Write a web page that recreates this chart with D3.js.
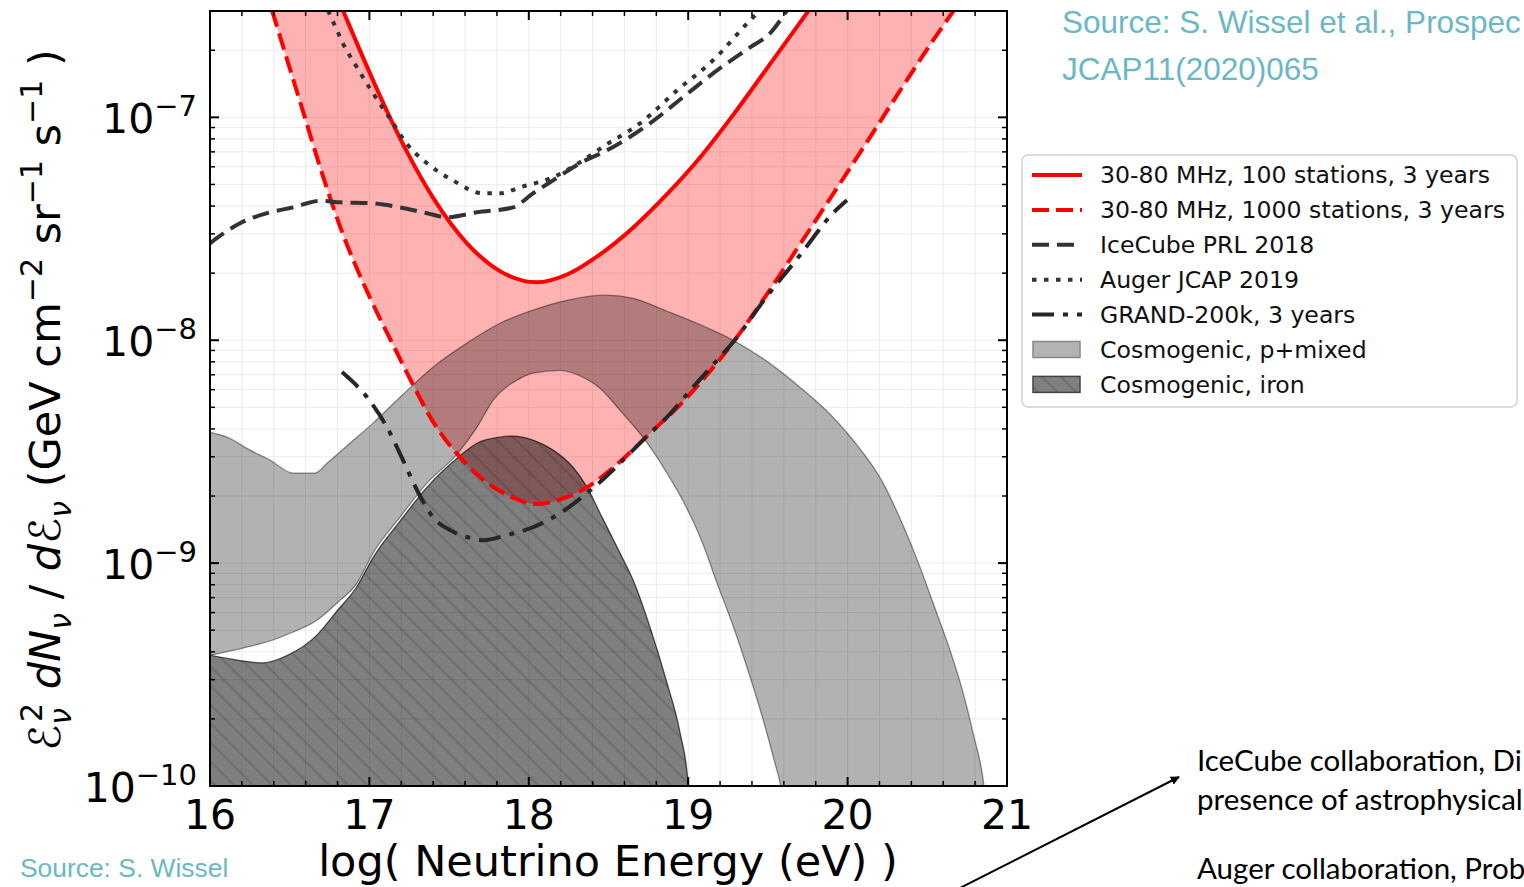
<!DOCTYPE html>
<html>
<head>
<meta charset="utf-8">
<script src="https://cdn.jsdelivr.net/npm/d3@7"></script>
<style>
  body { margin: 0; background: #fff; overflow: hidden; }
  svg { display: block; }
</style>
</head>
<body>
<svg id="chart" width="1524" height="887"></svg>
<script>
// Neutrino flux sensitivities and cosmogenic model bands.
// Each point: [log10(E / eV), log10(E^2 dN/dE in GeV cm^-2 sr^-1 s^-1)]

const radio100Stations = [
  [16.834, -6.52], [17.142, -7.02], [17.236, -7.155], [17.399, -7.36], [17.612, -7.565],
  [17.819, -7.69], [18.051, -7.74], [18.240, -7.705], [18.447, -7.615], [18.654, -7.495],
  [18.867, -7.345], [19.074, -7.18], [19.281, -6.99], [19.494, -6.78], [19.701, -6.575],
  [19.777, -6.50]
];

const radio1000Stations = [
  [16.389, -6.52], [16.565, -6.93], [16.734, -7.32], [16.816, -7.49], [17.004, -7.81],
  [17.148, -8.02], [17.274, -8.20], [17.399, -8.365], [17.550, -8.51], [17.713, -8.625],
  [17.882, -8.70], [18.051, -8.735], [18.215, -8.71], [18.365, -8.66], [18.572, -8.545],
  [18.779, -8.405], [18.949, -8.29], [19.118, -8.155], [19.281, -8.01], [19.469, -7.82],
  [19.701, -7.57], [19.908, -7.345], [20.122, -7.11], [20.329, -6.88], [20.536, -6.655],
  [20.686, -6.50]
];

const iceCube2018 = [
  [16.000, -7.565], [16.188, -7.475], [16.358, -7.430], [16.521, -7.404], [16.690, -7.375],
  [16.816, -7.381], [17.023, -7.386], [17.192, -7.404], [17.361, -7.430], [17.487, -7.448],
  [17.675, -7.426], [17.901, -7.404], [18.026, -7.341], [18.152, -7.283], [18.321, -7.206],
  [18.491, -7.148], [18.760, -7.027], [18.967, -6.910], [19.181, -6.789], [19.388, -6.686],
  [19.513, -6.623], [19.620, -6.52]
];

const auger2019 = [
  [16.740, -6.52], [16.797, -6.610], [16.834, -6.668], [16.922, -6.776], [17.023, -6.892],
  [17.129, -7.005], [17.236, -7.120], [17.361, -7.206], [17.524, -7.283], [17.713, -7.341],
  [17.819, -7.341], [17.945, -7.314], [18.152, -7.269], [18.340, -7.193], [18.478, -7.126],
  [18.698, -7.027], [18.930, -6.879], [19.156, -6.744], [19.388, -6.565], [19.438, -6.529]
];

const grand200k = [
  [16.828, -8.143], [16.985, -8.256], [17.110, -8.390], [17.211, -8.538], [17.299, -8.673],
  [17.399, -8.794], [17.506, -8.852], [17.612, -8.883], [17.713, -8.897], [17.863, -8.874],
  [18.026, -8.839], [18.196, -8.776], [18.365, -8.686], [18.572, -8.552], [18.716, -8.448],
  [18.867, -8.345], [19.030, -8.211], [19.181, -8.090], [19.281, -8.009], [19.494, -7.803],
  [19.701, -7.619], [19.908, -7.430], [19.996, -7.372]
];

const cosmoMixedUpper = [
  [16.000, -8.413], [16.107, -8.435], [16.251, -8.493], [16.376, -8.538], [16.521, -8.596],
  [16.659, -8.596], [16.734, -8.552], [16.878, -8.462], [17.023, -8.372], [17.192, -8.256],
  [17.399, -8.121], [17.612, -8.013], [17.819, -7.924], [18.026, -7.865], [18.240, -7.821],
  [18.478, -7.798], [18.654, -7.812], [18.867, -7.870], [19.074, -7.930], [19.281, -8.000],
  [19.494, -8.095], [19.701, -8.211], [19.908, -8.345], [20.034, -8.448], [20.222, -8.640],
  [20.329, -8.800], [20.454, -9.018], [20.536, -9.179], [20.642, -9.390], [20.724, -9.580],
  [20.787, -9.762], [20.856, -10.0], [20.872, -10.1]
];

const cosmoMixedLower = [
  [16.000, -9.413], [16.207, -9.381], [16.395, -9.345], [16.521, -9.309], [16.671, -9.256],
  [16.797, -9.179], [16.922, -9.090], [17.023, -8.955], [17.192, -8.794], [17.361, -8.641],
  [17.550, -8.511], [17.675, -8.390], [17.775, -8.270], [17.926, -8.179], [18.026, -8.148],
  [18.196, -8.135], [18.340, -8.166], [18.447, -8.215], [18.572, -8.314], [18.716, -8.435],
  [18.867, -8.596], [18.967, -8.720], [19.093, -8.915], [19.181, -9.090], [19.281, -9.280],
  [19.388, -9.510], [19.469, -9.700], [19.545, -9.900], [19.580, -10.0], [19.600, -10.1]
];

const cosmoIronUpper = [
  [16.000, -9.413], [16.169, -9.435], [16.332, -9.448], [16.489, -9.413], [16.671, -9.323],
  [16.797, -9.215], [16.922, -9.105], [17.023, -8.975], [17.192, -8.812], [17.361, -8.660],
  [17.550, -8.530], [17.675, -8.462], [17.819, -8.435], [17.901, -8.430], [18.026, -8.448],
  [18.152, -8.493], [18.277, -8.570], [18.365, -8.659], [18.447, -8.776], [18.572, -8.955],
  [18.654, -9.076], [18.760, -9.287], [18.867, -9.538], [18.949, -9.762], [18.999, -9.987],
  [19.010, -10.1]
];

const xTickValues = [16, 17, 18, 19, 20, 21];
const yTickExponents = [-10, -9, -8, -7];

const legendLabels = [
  "30-80 MHz, 100 stations, 3 years",
  "30-80 MHz, 1000 stations, 3 years",
  "IceCube PRL 2018",
  "Auger JCAP 2019",
  "GRAND-200k, 3 years",
  "Cosmogenic, p+mixed",
  "Cosmogenic, iron"
];

// ---------------------------------------------------------------------------
const svg = d3.select("#chart");
const plot = { left: 210, right: 1007, top: 11, bottom: 786 };

const x = d3.scaleLinear().domain([16, 21]).range([plot.left, plot.right]);
const y = d3.scaleLog().domain([1e-10, 3e-7]).range([plot.bottom, plot.top]);

const px = d => x(d[0]);
const py = d => y(Math.pow(10, d[1]));
const curve = d3.curveMonotoneX;
const line = d3.line().x(px).y(py).curve(curve);

const defs = svg.append("defs");
defs.append("clipPath").attr("id", "plotClip")
  .append("rect")
  .attr("x", plot.left).attr("y", plot.top)
  .attr("width", plot.right - plot.left).attr("height", plot.bottom - plot.top);

// diagonal hatch for the iron band
const hatch = defs.append("pattern")
  .attr("id", "ironHatch")
  .attr("patternUnits", "userSpaceOnUse")
  .attr("width", 19).attr("height", 19);
hatch.append("path")
  .attr("d", "M-4.75,14.25L4.75,23.75M0,0L19,19M14.25,-4.75L23.75,4.75")
  .attr("stroke", "#000").attr("stroke-opacity", 0.13).attr("stroke-width", 2);

defs.append("marker")
  .attr("id", "arrowHead")
  .attr("viewBox", "0 0 10 10")
  .attr("refX", 9).attr("refY", 5)
  .attr("markerWidth", 9).attr("markerHeight", 9)
  .attr("markerUnits", "userSpaceOnUse")
  .attr("orient", "auto")
  .append("path").attr("d", "M0,0L10,5L0,10Z").attr("fill", "#000");

// ---- grid ----
const xMinor = d3.range(16, 21.0001, 0.2).map(v => +v.toFixed(1));
const yMinor = [];
yTickExponents.forEach(e => {
  for (let k = 1; k <= 9; k++) {
    const v = k * Math.pow(10, e);
    if (v >= 1e-10 && v <= 3e-7) yMinor.push(v);
  }
});

const grid = svg.append("g").attr("stroke", "#ebebeb").attr("stroke-width", 1);
grid.selectAll("line.gx").data(xMinor.filter(v => v > 16 && v < 21)).join("line")
  .attr("x1", d => x(d)).attr("x2", d => x(d))
  .attr("y1", plot.top).attr("y2", plot.bottom);
grid.selectAll("line.gy").data(yMinor.filter(v => v > 1e-10)).join("line")
  .attr("x1", plot.left).attr("x2", plot.right)
  .attr("y1", d => y(d)).attr("y2", d => y(d));

// ---- filled regions ----
const layer = svg.append("g").attr("clip-path", "url(#plotClip)");

// radio sensitivity band between the two station counts
const bandPath = line(radio100Stations) + "L" +
  line(radio1000Stations.slice().reverse()).slice(1) + "Z";
layer.append("path")
  .attr("d", bandPath)
  .attr("fill", "#ff0000").attr("fill-opacity", 0.3)
  .attr("stroke", "none");

// cosmogenic p+mixed band
const mixedPath = line(cosmoMixedUpper) + "L" +
  line(cosmoMixedLower.slice().reverse()).slice(1) + "Z";
layer.append("path")
  .attr("d", mixedPath)
  .attr("fill", "#000").attr("fill-opacity", 0.3)
  .attr("stroke", "#000").attr("stroke-opacity", 0.42).attr("stroke-width", 1.3);

// cosmogenic iron band (extends below the axis)
const ironArea = d3.area().x(px).y1(py).y0(plot.bottom + 20).curve(curve);
layer.append("path")
  .attr("d", ironArea(cosmoIronUpper))
  .attr("fill", "#000").attr("fill-opacity", 0.5)
  .attr("stroke", "#000").attr("stroke-opacity", 0.65).attr("stroke-width", 1.3);
layer.append("path")
  .attr("d", ironArea(cosmoIronUpper))
  .attr("fill", "url(#ironHatch)");

// ---- curves ----
const curves = [
  { data: radio100Stations, color: "#ff0000", width: 4, dash: null },
  { data: radio1000Stations, color: "#ff0000", width: 4, dash: "17,7" },
  { data: iceCube2018, color: "#333333", width: 4, dash: "17,8" },
  { data: auger2019, color: "#333333", width: 4, dash: "4.5,7.5" },
  { data: grand200k, color: "#262626", width: 4, dash: "22,9,5,9" }
];
curves.forEach(c => {
  layer.append("path")
    .attr("d", line(c.data))
    .attr("fill", "none")
    .attr("stroke", c.color)
    .attr("stroke-width", c.width)
    .attr("stroke-dasharray", c.dash)
    .attr("stroke-linejoin", "round");
});

// ---- axes frame and ticks (inward, all four sides) ----
const ticks = svg.append("g").attr("stroke", "#000");
xMinor.forEach(v => {
  const isMajor = xTickValues.includes(v);
  const len = isMajor ? 9 : 5;
  const w = isMajor ? 2 : 1.5;
  ticks.append("line").attr("x1", x(v)).attr("x2", x(v))
    .attr("y1", plot.bottom).attr("y2", plot.bottom - len).attr("stroke-width", w);
  ticks.append("line").attr("x1", x(v)).attr("x2", x(v))
    .attr("y1", plot.top).attr("y2", plot.top + len).attr("stroke-width", w);
});
yMinor.forEach(v => {
  const e = Math.log10(v);
  const isMajor = Math.abs(e - Math.round(e)) < 1e-9;
  const len = isMajor ? 9 : 5;
  const w = isMajor ? 2 : 1.5;
  ticks.append("line").attr("x1", plot.left).attr("x2", plot.left + len)
    .attr("y1", y(v)).attr("y2", y(v)).attr("stroke-width", w);
  ticks.append("line").attr("x1", plot.right).attr("x2", plot.right - len)
    .attr("y1", y(v)).attr("y2", y(v)).attr("stroke-width", w);
});

svg.append("rect")
  .attr("x", plot.left).attr("y", plot.top)
  .attr("width", plot.right - plot.left).attr("height", plot.bottom - plot.top)
  .attr("fill", "none").attr("stroke", "#000").attr("stroke-width", 2);

// ---- tick labels ----
const font = "DejaVu Sans, sans-serif";
svg.append("g").selectAll("text").data(xTickValues).join("text")
  .attr("x", d => x(d)).attr("y", 829)
  .attr("text-anchor", "middle")
  .attr("font-family", font).attr("font-size", 41)
  .text(d => d);

yTickExponents.forEach(e => {
  const t = svg.append("text")
    .attr("x", 197).attr("y", y(Math.pow(10, e)) + 16)
    .attr("text-anchor", "end")
    .attr("font-family", font).attr("font-size", 41);
  t.append("tspan").text("10");
  t.append("tspan").attr("font-size", 29).attr("dy", -17).text("\u2212" + Math.abs(e));
});

// ---- axis titles ----
svg.append("text")
  .attr("x", 608).attr("y", 876)
  .attr("text-anchor", "middle")
  .attr("font-family", font).attr("font-size", 43)
  .text("log( Neutrino Energy (eV) )");

const yTitle = svg.append("text")
  .attr("transform", "translate(60,400) rotate(-90)")
  .attr("text-anchor", "middle")
  .attr("font-family", font).attr("font-size", 43);
const yParts = [
  { t: "\u2130", italic: true },
  { t: "\u03bd", size: 30, dy: 11, italic: true },
  { t: "2", size: 30, dx: -14, dy: -29 },
  { t: " ", dy: 18 },
  { t: "dN", italic: true },
  { t: "\u03bd", size: 30, dy: 11, italic: true },
  { t: " / ", dy: -11 },
  { t: "d\u2130", italic: true },
  { t: "\u03bd", size: 30, dy: 11, italic: true },
  { t: " (GeV cm", dy: -11 },
  { t: "\u22122", size: 30, dy: -18 },
  { t: " sr", dy: 18 },
  { t: "\u22121", size: 30, dy: -18 },
  { t: " s", dy: 18 },
  { t: "\u22121", size: 30, dy: -18 },
  { t: " )", dy: 18 }
];
yParts.forEach(p => {
  const s = yTitle.append("tspan").text(p.t);
  if (p.size) s.attr("font-size", p.size);
  if (p.dx) s.attr("dx", p.dx);
  if (p.dy) s.attr("dy", p.dy);
  if (p.italic) s.attr("font-style", "italic");
});

// ---- legend ----
const legend = svg.append("g");
legend.append("rect")
  .attr("x", 1022).attr("y", 155).attr("width", 495).attr("height", 252)
  .attr("rx", 6).attr("fill", "#fff").attr("stroke", "#d0d0d0").attr("stroke-width", 1.5);

const rowY = i => 175 + i * 34.9;
legendLabels.forEach((label, i) => {
  legend.append("text")
    .attr("x", 1100).attr("y", rowY(i))
    .attr("dy", "0.36em")
    .attr("font-family", font).attr("font-size", 23.6)
    .attr("fill", "#111")
    .text(label);
});
curves.forEach((c, i) => {
  legend.append("line")
    .attr("x1", 1032).attr("x2", 1082)
    .attr("y1", rowY(i)).attr("y2", rowY(i))
    .attr("stroke", c.color).attr("stroke-width", c.width)
    .attr("stroke-dasharray", c.dash);
});
legend.append("rect")
  .attr("x", 1033).attr("y", rowY(5) - 8).attr("width", 47).attr("height", 16)
  .attr("fill", "#b3b3b3").attr("stroke", "#888").attr("stroke-width", 1.5);
legend.append("rect")
  .attr("x", 1033).attr("y", rowY(6) - 8).attr("width", 47).attr("height", 16)
  .attr("fill", "#808080").attr("stroke", "#444").attr("stroke-width", 1.5);
legend.append("rect")
  .attr("x", 1033).attr("y", rowY(6) - 8).attr("width", 47).attr("height", 16)
  .attr("fill", "url(#ironHatch)");

// ---- annotations ----
const teal = "#6bb8c5";
const sans = "Liberation Sans, Arial, sans-serif";
svg.append("text").attr("x", 1062).attr("y", 33)
  .attr("font-family", sans).attr("font-size", 31.5).attr("fill", teal)
  .text("Source: S. Wissel et al., Prospec");
svg.append("text").attr("x", 1062).attr("y", 80)
  .attr("font-family", sans).attr("font-size", 31.5).attr("fill", teal)
  .text("JCAP11(2020)065");
svg.append("text").attr("x", 20).attr("y", 877)
  .attr("font-family", sans).attr("font-size", 26.4).attr("fill", teal)
  .text("Source: S. Wissel");

const refs = ["IceCube collaboration, Di", "presence of astrophysical", "Auger collaboration, Prob"];
const refY = [771, 810, 879];
refs.forEach((r, i) => {
  svg.append("text").attr("x", 1197).attr("y", refY[i])
    .attr("font-family", "Lato, sans-serif").attr("font-size", 29.5).attr("fill", "#000")
    .text(r);
});

svg.append("line")
  .attr("x1", 958).attr("y1", 889).attr("x2", 1179).attr("y2", 777)
  .attr("stroke", "#000").attr("stroke-width", 2)
  .attr("marker-end", "url(#arrowHead)");
</script>
</body>
</html>
